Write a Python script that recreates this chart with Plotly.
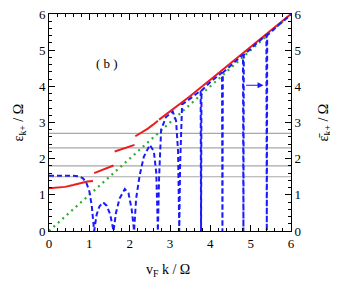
import plotly.graph_objects as go

# green dotted reference line
green_x = [0, 6]
green_y = [0, 6]

# red segments (epsilon_k+)
red_segments = [
    ([0, 0.2, 0.4, 0.6, 0.8, 0.95, 1.09], [1.18, 1.19, 1.22, 1.27, 1.33, 1.37, 1.38]),
    ([1.12, 1.25, 1.4, 1.5, 1.6], [1.6, 1.66, 1.73, 1.77, 1.81]),
    ([1.63, 1.75, 1.9, 2.0, 2.12], [2.2, 2.24, 2.3, 2.34, 2.38]),
    ([2.14, 2.3, 2.45, 2.58, 2.7], [2.62, 2.72, 2.83, 2.94, 3.05]),
    ([2.73, 2.9, 3.1, 3.3, 3.48, 4.0, 4.5, 5.0, 5.5, 6.0],
     [3.08, 3.22, 3.38, 3.55, 3.71, 4.18, 4.63, 5.09, 5.54, 6.0]),
]

# blue dashed curve (epsilon-bar_k+)
blue_x = [0, 0.3, 0.6, 0.75, 0.85, 0.93, 1.0, 1.06, 1.12,
          1.18, 1.25, 1.34, 1.43, 1.52, 1.60,
          1.66, 1.75, 1.88, 1.97, 2.05, 2.11,
          2.16, 2.25, 2.35, 2.5, 2.6, 2.66, 2.70,
          2.73, 2.78, 2.9, 3.07, 3.15, 3.2, 3.23,
          3.25, 3.3, 3.5, 3.76, 3.77,
          3.78, 4.0, 4.29, 4.30,
          4.31, 4.5, 4.81, 4.82,
          4.83, 5.1, 5.39, 5.40,
          5.41, 5.7, 6.0]
blue_y = [1.53, 1.54, 1.53, 1.51, 1.45, 1.32, 1.1, 0.7, 0,
          0.45, 0.68, 0.79, 0.7, 0.45, 0,
          0.5, 0.9, 1.16, 1.05, 0.6, 0,
          0.9, 1.55, 2.05, 2.38, 2.2, 1.6, 0,
          1.5, 2.8, 3.15, 3.30, 3.05, 2.2, 0,
          1.8, 3.5, 3.66, 3.88, 0,
          3.88, 4.12, 4.38, 0,
          4.38, 4.57, 4.87, 0,
          4.87, 5.14, 5.42, 0,
          5.42, 5.7, 5.98]

# horizontal gray levels
gray_levels = [1.5, 1.8, 2.3, 2.7]

tick_vals = [0, 1, 2, 3, 4, 5, 6]
tick_text = ["0", "1", "2", "3", "4", "5", "6"]

FONT = "Liberation Serif, Times New Roman, serif"
fig = go.Figure()

for g in gray_levels:
    fig.add_trace(go.Scatter(x=[0, 6], y=[g, g], mode="lines",
                             line=dict(color="#a8a8a8", width=1.2),
                             showlegend=False, hoverinfo="skip"))

fig.add_trace(go.Scatter(x=green_x, y=green_y, mode="lines",
                         line=dict(color="#2eaa2e", width=2.2, dash="2px,4px"),
                         showlegend=False))

for sx, sy in red_segments:
    fig.add_trace(go.Scatter(x=sx, y=sy, mode="lines",
                             line=dict(color="#ee1c1c", width=2),
                             showlegend=False))

fig.add_trace(go.Scatter(x=blue_x, y=blue_y, mode="lines", yaxis="y2",
                         line=dict(color="#1a1aff", width=2, dash="5px,3px"),
                         showlegend=False))

axis_common = dict(range=[0, 6], showgrid=False, zeroline=False, automargin=False,
                   showline=True, linecolor="black", linewidth=1,
                   ticks="inside", ticklen=6, tickcolor="black",
                   tickvals=tick_vals, ticktext=tick_text,
                   ticklabeloverflow="allow",
                   tickfont=dict(family=FONT, size=13, color="black"),
                   minor=dict(ticks="inside", ticklen=3, dtick=0.2, tickcolor="black"))

fig.update_layout(
    width=330, height=276,
    margin=dict(l=41, r=47, t=6, b=53, autoexpand=False),
    paper_bgcolor="white", plot_bgcolor="white",
    font=dict(family=FONT, size=13, color="black"),
    xaxis=dict(**axis_common, mirror="ticks"),
    yaxis=dict(**axis_common, mirror=False),
    yaxis2=dict(**axis_common, overlaying="y", side="right", anchor="x"),
    annotations=[
        dict(text="(\u00a0b\u00a0)", x=1.45, y=4.62, xref="x", yref="y", showarrow=False,
             font=dict(family=FONT, size=13)),
        dict(text="v<sub>F</sub> k / Ω", x=0.49, y=-0.18, xref="paper", yref="paper",
             xanchor="center", yanchor="middle", showarrow=False,
             font=dict(family=FONT, size=14)),
        dict(text="ε<sub>k+</sub> / Ω", x=-0.12, y=0.5, xref="paper", yref="paper",
             textangle=-90, xanchor="center", yanchor="middle", showarrow=False,
             font=dict(family=FONT, size=14)),
        dict(text="ε̄<sub>k+</sub> / Ω", x=1.14, y=0.5, xref="paper", yref="paper",
             textangle=-90, xanchor="center", yanchor="middle", showarrow=False,
             font=dict(family=FONT, size=14)),
        dict(x=5.32, y=4.03, ax=4.85, ay=4.03, xref="x", yref="y", axref="x", ayref="y",
             text="", showarrow=True, arrowhead=2, arrowsize=1, arrowwidth=1.2,
             arrowcolor="#1a1aff"),
    ],
)

fig.write_html("out.html")
